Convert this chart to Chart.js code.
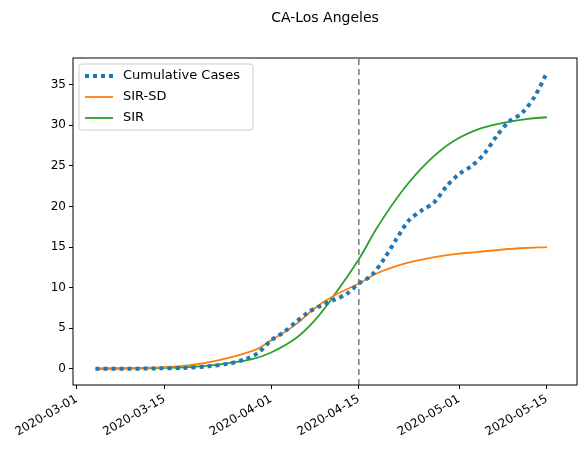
<!DOCTYPE html>
<html>
<head>
<meta charset="utf-8">
<script src="https://cdn.jsdelivr.net/npm/chart.js@4"></script>
<style>
  html, body { margin: 0; padding: 0; background: #fff; }
  #wrap { width: 588px; height: 456px; }
</style>
</head>
<body>
<div id="wrap"><canvas id="c"></canvas></div>
<script>
// x values are days after 2020-03-01
const tickDays = [0, 14, 31, 45, 61, 75];
const tickLabels = ['2020-03-01', '2020-03-15', '2020-04-01', '2020-04-15', '2020-05-01', '2020-05-15'];

const caseDays = [3, 8, 13, 17, 21, 24, 27, 29, 31, 33, 35, 37, 39, 41, 43, 45, 47, 49, 51, 53, 55, 57, 59, 61, 63, 65, 67, 69, 71, 73, 75];
const caseVals = [0, 0, 0.05, 0.1, 0.3, 0.6, 1.2, 2, 3.5, 4.5, 5.8, 7, 7.8, 8.5, 9.2, 10.5, 11.5, 13.5, 16, 18.3, 19.5, 20.5, 22.5, 24, 25, 26.5, 28.7, 30.5, 31.5, 33.5, 36.5];

const modelDays = [3, 14, 21, 28, 31, 35, 38, 41, 45, 48, 52, 56, 60, 64, 68, 72, 75];
const sirVals =   [0, 0.1, 0.4, 1.2, 2, 3.8, 6, 9, 13.5, 17.5, 22, 25.5, 28, 29.5, 30.3, 30.8, 31];
const sirSdVals = [0.05, 0.2, 0.8, 2.2, 3.5, 5.5, 7.5, 9, 10.5, 11.8, 12.9, 13.6, 14.1, 14.4, 14.7, 14.9, 15];

const cutoffDay = 45;
const yTicks = [0, 5, 10, 15, 20, 25, 30, 35];

const FONT = 'DejaVu Sans';
const pts = (xs, ys) => xs.map((x, i) => ({ x, y: ys[i] }));

const series = [
  { label: 'Cumulative Cases', color: '#1f77b4', dash: [4, 4], width: 4 },
  { label: 'SIR-SD', color: '#ff7f0e', dash: [], width: 1.8 },
  { label: 'SIR', color: '#2ca02c', dash: [], width: 1.8 },
];

// title, frame box, legend box
const decor = {
  id: 'decor',
  afterDraw(chart) {
    const { ctx, chartArea: a } = chart;
    ctx.save();
    ctx.fillStyle = '#000';
    ctx.font = `14px "${FONT}"`;
    ctx.textAlign = 'center';
    ctx.textBaseline = 'middle';
    ctx.fillText('CA-Los Angeles', (a.left + a.right) / 2, 18);

    ctx.strokeStyle = '#000';
    ctx.lineWidth = 1;
    ctx.strokeRect(a.left, a.top, a.right - a.left, a.bottom - a.top);

    const lx = a.left + 6, ly = a.top + 6;
    ctx.font = `13px "${FONT}"`;
    ctx.textAlign = 'left';
    ctx.fillStyle = 'rgba(255,255,255,0.85)';
    ctx.strokeStyle = '#cccccc';
    ctx.beginPath();
    ctx.roundRect(lx, ly, 174, 66, 3);
    ctx.fill();
    ctx.stroke();
    series.forEach((s, i) => {
      const y = ly + 12 + i * 21;
      ctx.strokeStyle = s.color;
      ctx.lineWidth = s.width;
      ctx.setLineDash(s.dash);
      ctx.beginPath();
      ctx.moveTo(lx + 6, y);
      ctx.lineTo(lx + 34, y);
      ctx.stroke();
      ctx.setLineDash([]);
      ctx.fillStyle = '#000';
      ctx.fillText(s.label, lx + 44, y);
    });
    ctx.restore();
  },
};

new Chart(document.getElementById('c'), {
  type: 'line',
  data: {
    datasets: [
      { data: pts(caseDays, caseVals), borderColor: series[0].color, borderDash: series[0].dash, borderWidth: series[0].width, tension: 0.3 },
      { data: pts(modelDays, sirSdVals), borderColor: series[1].color, borderWidth: series[1].width, tension: 0.4 },
      { data: pts(modelDays, sirVals), borderColor: series[2].color, borderWidth: series[2].width, tension: 0.4 },
      { data: [{ x: cutoffDay, y: -2 }, { x: cutoffDay, y: 38.3 }], borderColor: '#777777', borderDash: [6, 4], borderWidth: 1.5 },
    ],
  },
  options: {
    responsive: true,
    maintainAspectRatio: false,
    animation: false,
    elements: { point: { radius: 0 } },
    layout: { padding: { top: 58, right: 11, left: 8, bottom: 0 } },
    plugins: { legend: { display: false }, tooltip: { enabled: false } },
    scales: {
      x: {
        type: 'linear', min: -0.6, max: 79.8,
        afterBuildTicks: (s) => { s.ticks = tickDays.map((v) => ({ value: v })); },
        afterFit: (s) => { s.height = 71; },
        grid: { drawOnChartArea: false, tickLength: 4, color: '#000' },
        border: { display: false },
        ticks: {
          color: '#000', font: { family: FONT, size: 12 }, maxRotation: 30, minRotation: 30,
          callback: (v) => tickLabels[tickDays.indexOf(v)] ?? '',
        },
      },
      y: {
        min: -2, max: 38.3,
        afterBuildTicks: (s) => { s.ticks = yTicks.map((v) => ({ value: v })); },
        afterFit: (s) => { s.width = 65; },
        grid: { drawOnChartArea: false, tickLength: 4, color: '#000' },
        border: { display: false },
        ticks: { color: '#000', font: { family: FONT, size: 12 } },
      },
    },
  },
  plugins: [decor],
});
</script>
</body>
</html>
